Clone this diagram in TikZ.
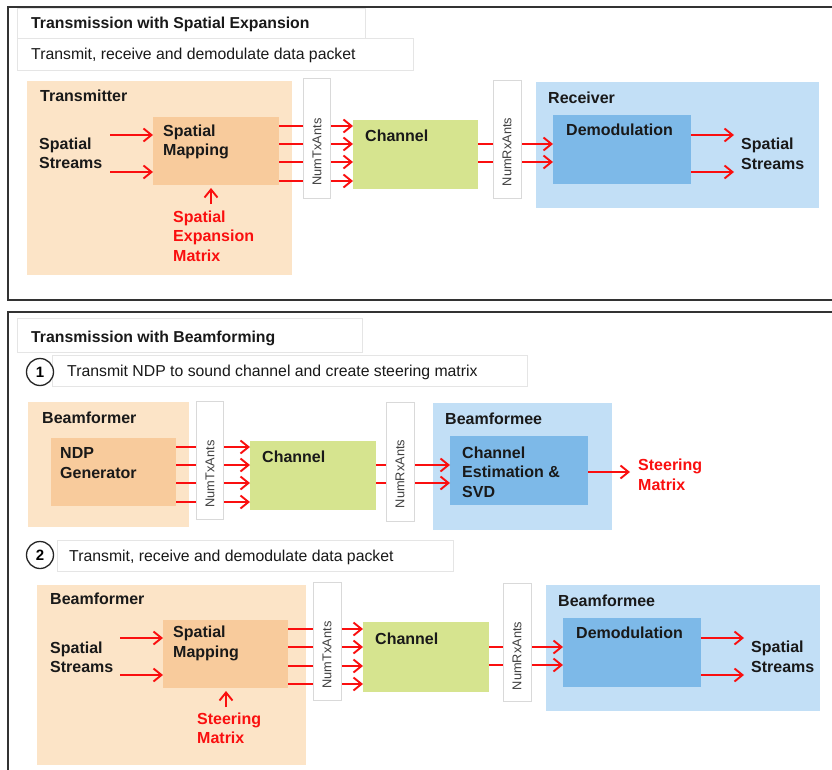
\documentclass[tikz,border=0pt]{standalone}
\usepackage{fontspec}
\setmainfont{Liberation Sans}
\usetikzlibrary{arrows.meta,fit,calc}
\definecolor{peachL}{RGB}{252,228,199}
\definecolor{peachD}{RGB}{248,203,156}
\definecolor{chgreen}{RGB}{214,228,143}
\definecolor{blueL}{RGB}{194,223,246}
\definecolor{blueD}{RGB}{125,185,232}
\definecolor{arrred}{RGB}{250,15,15}
\definecolor{txtblk}{RGB}{25,25,25}
\tikzset{
 area/.style={inner sep=0pt, outer sep=0pt, draw=none, fill=#1},
 hdrbox/.style={inner sep=0pt, outer sep=0pt, draw=black!10, line width=0.8pt, fill=white},
 antbox/.style={inner sep=0pt, outer sep=0pt, draw=black!15, line width=0.8pt, fill=white},
 lbl/.style={font=\fontsize{16}{19.5}\selectfont\bfseries, text=txtblk, anchor=west, align=left, inner sep=0pt},
 redlbl/.style={lbl, text=arrred},
 hdrtxt/.style={font=\fontsize{15.8}{19}\selectfont, text=txtblk, anchor=base west, inner sep=0pt},
 hdrbold/.style={hdrtxt, font=\fontsize{15.8}{19}\selectfont\bfseries},
 anttxt/.style={font=\fontsize{12.8}{15}\selectfont, text=black!75, rotate=90, inner sep=0pt},
 sig/.style={draw=arrred, line width=1.9pt, -{Straight Barb[length=8pt,width=13pt]}},
 frame/.style={draw=black!80, line width=2.2pt},
 stepnum/.style={circle, draw=black!85, line width=1.3pt, fill=white, minimum size=27pt, inner sep=0pt, font=\fontsize{15}{15}\selectfont\bfseries}
}
\begin{document}
\begin{tikzpicture}[x=1pt,y=-1pt]
\useasboundingbox[fill=white] (0,0) rectangle (832,770);
% frames
\begin{scope}
\clip (0,0) rectangle (832,770);
\draw[frame] (8,7) rectangle (850,300);
\draw[frame] (8,312) rectangle (850,790);
\end{scope}

%================ Section 1 =================
\node[hdrbox, fit={(17,8) (365,38)}] (hdr1) {};
\node[hdrbox, fit={(17,38) (413,70)}] (sub1) {};
\node[hdrbold] (hdr1t) at (31,28.5) {Transmission with Spatial Expansion};
\node[hdrtxt] (sub1t) at (31,60) {Transmit, receive and demodulate data packet};

\node[area=peachL, fit={(27,81) (292,275)}] (tx) {};
\node[area=peachD, fit={(153,117) (279,185)}] (sm1) {};
\node[area=chgreen, fit={(353,120) (478,189)}] (ch1) {};
\node[area=blueL, fit={(536,82) (819,208)}] (rx) {};
\node[area=blueD, fit={(553,115) (691,184)}] (dm1) {};

\coordinate (i1a) at (110,135);
\coordinate (i1b) at (110,172);
\draw[sig] (i1a) -- (i1a -| sm1.west);
\draw[sig] (i1b) -- (i1b -| sm1.west);
\foreach \yy in {126,144,162,181}{
  \draw[sig] (sm1.east |- 0,\yy) -- (ch1.west |- 0,\yy);
}
\foreach \yy in {144,162}{
  \draw[sig] (ch1.east |- 0,\yy) -- (dm1.west |- 0,\yy);
}
\coordinate (up1) at (211,204);
\draw[sig, shorten >=3pt] (up1) -- (up1 |- sm1.south);
\coordinate (o1a) at (734,135);
\coordinate (o1b) at (734,172);
\draw[sig] (dm1.east |- o1a) -- (o1a);
\draw[sig] (dm1.east |- o1b) -- (o1b);

\node[antbox, fit={(303,78) (330,198)}] (ntx1) {};
\node[antbox, fit={(493,80) (521,198)}] (nrx1) {};
\node[anttxt] (ntx1t) at (317,152) {NumTxAnts};
\node[anttxt] (nrx1t) at (507,152) {NumRxAnts};

\node[lbl] (txl) at (40,96) {Transmitter};
\node[lbl] (ss1) at (39,153.5) {Spatial\\Streams};
\node[lbl] (sm1t) at (163,142) {Spatial\\Mapping};
\node[redlbl] (sem1) at (173,236) {Spatial\\Expansion\\Matrix};
\node[lbl] (ch1t) at (365,136) {Channel};
\node[lbl] (rxl) at (548,98) {Receiver};
\node[lbl] (dm1t) at (566,130) {Demodulation};
\node[lbl] (ss1o) at (741,154) {Spatial\\Streams};

%================ Section 2 =================
\node[hdrbox, fit={(17,318) (362,352)}] (hdr2) {};
\node[hdrbold] (hdr2t) at (31,342) {Transmission with Beamforming};
\node[hdrbox, fit={(52,355) (527,386)}] (st1) {};
\node[hdrtxt] (st1t) at (67,376) {Transmit NDP to sound channel and create steering matrix};
\node[stepnum] (n1) at (40,372) {1};

\node[area=peachL, fit={(28,402) (189,527)}] (bf1) {};
\node[area=peachD, fit={(51,438) (176,506)}] (ndp) {};
\node[area=chgreen, fit={(250,441) (376,510)}] (ch2) {};
\node[area=blueL, fit={(433,403) (612,530)}] (bfe1) {};
\node[area=blueD, fit={(450,436) (588,505)}] (ce) {};

\foreach \yy in {447,465,483,502}{
  \draw[sig] (ndp.east |- 0,\yy) -- (ch2.west |- 0,\yy);
}
\foreach \yy in {465,483}{
  \draw[sig] (ch2.east |- 0,\yy) -- (ce.west |- 0,\yy);
}
\coordinate (o2) at (630,472);
\draw[sig] (ce.east |- o2) -- (o2);

\node[antbox, fit={(196,401) (223,519)}] (ntx2) {};
\node[antbox, fit={(386,402) (414,521)}] (nrx2) {};
\node[anttxt] (ntx2t) at (210,474) {NumTxAnts};
\node[anttxt] (nrx2t) at (400,474) {NumRxAnts};

\node[lbl] (bf1l) at (42,418) {Beamformer};
\node[lbl] (ndpt) at (60,463) {NDP\\Generator};
\node[lbl] (ch2t) at (262,457) {Channel};
\node[lbl] (bfe1l) at (445,419) {Beamformee};
\node[lbl] (cet) at (462,472) {Channel\\Estimation \&\\SVD};
\node[redlbl] (stm1) at (638,475) {Steering\\Matrix};

% step 2
\node[hdrbox, fit={(57,540) (453,571)}] (st2) {};
\node[hdrtxt] (st2t) at (69,561.5) {Transmit, receive and demodulate data packet};
\node[stepnum] (n2) at (40,555) {2};

\node[area=peachL, fit={(37,585) (306,765)}] (bf2) {};
\node[area=peachD, fit={(163,620) (288,688)}] (sm2) {};
\node[area=chgreen, fit={(363,622) (489,692)}] (ch3) {};
\node[area=blueL, fit={(546,585) (820,711)}] (bfe2) {};
\node[area=blueD, fit={(563,618) (701,687)}] (dm2) {};

\coordinate (i2a) at (120,638);
\coordinate (i2b) at (120,675);
\draw[sig] (i2a) -- (i2a -| sm2.west);
\draw[sig] (i2b) -- (i2b -| sm2.west);
\foreach \yy in {629,647,666,684}{
  \draw[sig] (sm2.east |- 0,\yy) -- (ch3.west |- 0,\yy);
}
\foreach \yy in {647,665}{
  \draw[sig] (ch3.east |- 0,\yy) -- (dm2.west |- 0,\yy);
}
\coordinate (up2) at (226,707);
\draw[sig, shorten >=3pt] (up2) -- (up2 |- sm2.south);
\coordinate (o3a) at (744,638);
\coordinate (o3b) at (744,675);
\draw[sig] (dm2.east |- o3a) -- (o3a);
\draw[sig] (dm2.east |- o3b) -- (o3b);

\node[antbox, fit={(313,582) (341,700)}] (ntx3) {};
\node[antbox, fit={(503,583) (531,701)}] (nrx3) {};
\node[anttxt] (ntx3t) at (327,655) {NumTxAnts};
\node[anttxt] (nrx3t) at (517,656) {NumRxAnts};

\node[lbl] (bf2l) at (50,599) {Beamformer};
\node[lbl] (ss2) at (50,657.5) {Spatial\\Streams};
\node[lbl] (sm2t) at (173,643.5) {Spatial\\Mapping};
\node[redlbl] (stm2) at (197,728.5) {Steering\\Matrix};
\node[lbl] (ch3t) at (375,639) {Channel};
\node[lbl] (bfe2l) at (558,601) {Beamformee};
\node[lbl] (dm2t) at (576,633) {Demodulation};
\node[lbl] (ss2o) at (751,657) {Spatial\\Streams};
\end{tikzpicture}
\end{document}
